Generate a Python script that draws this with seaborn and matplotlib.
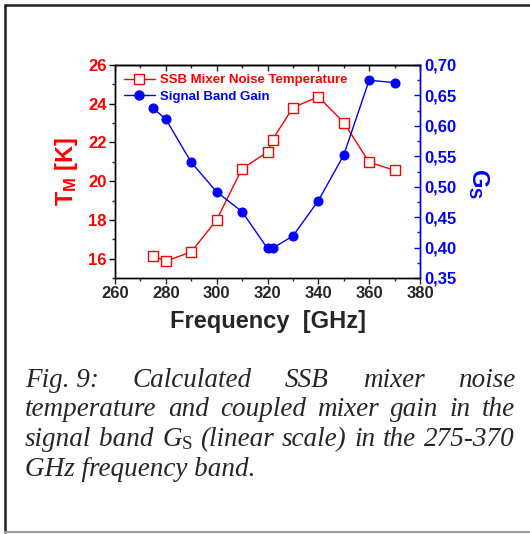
import matplotlib
matplotlib.use("Agg")
import matplotlib.pyplot as plt
import matplotlib.ticker as mticker
from matplotlib.lines import Line2D
import seaborn as sb

# data
freq = [275, 280, 290, 300, 310, 320, 322, 330, 340, 350, 360, 370]
noise_temp = [16.14, 15.87, 16.35, 18.0, 20.65, 21.5, 22.15, 23.8, 24.36, 23.03, 20.98, 20.56]
signal_gain = [0.629, 0.611, 0.540, 0.4915, 0.459, 0.3985, 0.399, 0.419, 0.477, 0.552, 0.675, 0.671]

caption_lines = [
    "Fig.\u00a09: Calculated SSB mixer noise",
    "temperature and coupled mixer gain in the",
    r"signal band $G_{\mathrm{S}}$ (linear scale) in the 275-370",
    "GHz frequency band.",
]

sb.set_style("ticks")
plt.rcParams["font.family"] = ["Liberation Sans", "DejaVu Sans"]
plt.rcParams["mathtext.fontset"] = "custom"
plt.rcParams["mathtext.bf"] = "Liberation Sans:bold"
plt.rcParams["mathtext.rm"] = "Liberation Serif"
plt.rcParams["mathtext.it"] = "Liberation Serif:italic"

W, H = 530, 534
fig = plt.figure(figsize=(W / 100, H / 100), dpi=100)
ax = fig.add_axes([115 / W, 1 - 278 / H, 305 / W, 213 / H])
ax2 = ax.twinx()

red = "#ff0000"
blue = "#0000ff"

sb.lineplot(x=freq, y=noise_temp, ax=ax, color=red, lw=1.0, marker="s", markersize=7,
            markerfacecolor="white", markeredgecolor=red, markeredgewidth=1.0)
sb.lineplot(x=freq, y=signal_gain, ax=ax2, color=blue, lw=1.0, marker="o", markersize=6.5,
            markerfacecolor=blue, markeredgecolor=blue)

ax.set_xlim(260, 380)
ax.set_ylim(15, 26)
ax2.set_ylim(0.35, 0.70)

ax.xaxis.set_major_locator(mticker.MultipleLocator(20))
ax.xaxis.set_minor_locator(mticker.MultipleLocator(10))
ax.yaxis.set_major_locator(mticker.MultipleLocator(2))
ax.yaxis.set_minor_locator(mticker.MultipleLocator(1))
ax2.yaxis.set_major_locator(mticker.MultipleLocator(0.05))
ax2.yaxis.set_minor_locator(mticker.MultipleLocator(0.025))
ax2.yaxis.set_major_formatter(mticker.FuncFormatter(lambda v, p: f"{v:.2f}".replace(".", ",")))

ax.tick_params(axis="x", which="major", direction="out", length=4, width=1, labelsize=12, pad=2)
ax.tick_params(axis="x", which="minor", direction="out", length=2.5, width=1)
ax.tick_params(axis="y", which="major", direction="out", length=4, width=1, colors="black",
               labelcolor=red, labelsize=12, pad=2)
ax.tick_params(axis="y", which="minor", direction="out", length=2.5, width=1)
ax2.tick_params(axis="y", which="major", direction="in", length=4, width=1, colors=blue,
                labelcolor=blue, labelsize=12, pad=3)
ax2.tick_params(axis="y", which="minor", direction="in", length=2.5, width=1, colors=blue)
for lab in ax.get_xticklabels() + ax.get_yticklabels() + ax2.get_yticklabels():
    lab.set_fontweight("bold")

# top axis: mirrored ticks pointing inward, no labels
top = ax.secondary_xaxis("top")
top.xaxis.set_major_locator(mticker.MultipleLocator(20))
top.xaxis.set_minor_locator(mticker.MultipleLocator(10))
top.tick_params(which="major", direction="in", length=4, width=1, labeltop=False)
top.tick_params(which="minor", direction="in", length=2.5, width=1)
top.spines["top"].set_linewidth(1.0)

for a in (ax, ax2):
    for s in a.spines.values():
        s.set_linewidth(1.0)
        s.set_color("black")
ax2.spines["right"].set_color(blue)

ax.set_xlabel("Frequency  [GHz]", fontsize=17, fontweight="bold", labelpad=6)
ax.set_ylabel(r"$\mathbf{T_M}$ [K]", fontsize=17, fontweight="bold", color=red, labelpad=6)
ax2.set_ylabel(r"$\mathbf{G_S}$", fontsize=17, fontweight="bold", color=blue, rotation=270,
               va="center", ha="center")
ax2.yaxis.set_label_coords((478 - 115) / 305, (278 - 183) / 213)

handles = [
    Line2D([], [], color=red, lw=1.0, marker="s", markersize=7, markerfacecolor="white",
           markeredgecolor=red),
    Line2D([], [], color=blue, lw=1.0, marker="o", markersize=6.5, markerfacecolor=blue,
           markeredgecolor=blue),
]
leg = ax.legend(handles, ["SSB Mixer Noise Temperature", "Signal Band Gain"], loc="upper left",
                frameon=False, handlelength=2.3, handletextpad=0.4, borderaxespad=0.3,
                labelspacing=0.3, prop=dict(weight="bold", size=9.5))
for t, c in zip(leg.get_texts(), [red, blue]):
    t.set_color(c)

# caption, justified over the text column
fig.canvas.draw()
renderer = fig.canvas.get_renderer()
left_px, right_px = 25, 515
baselines = [387, 416.5, 446, 475.5]
cap_font = dict(family="Liberation Serif", style="italic", fontsize=19.5, va="baseline")
for i, (line, yb) in enumerate(zip(caption_lines, baselines)):
    y = 1 - yb / H
    if i == len(caption_lines) - 1:
        fig.text(left_px / W, y, line, ha="left", **cap_font)
        continue
    words = [w.replace("\u00a0", " ") for w in line.split(" ") if w]
    texts = [fig.text(0, y, w, ha="left", **cap_font) for w in words]
    widths = [t.get_window_extent(renderer).width for t in texts]
    gap = (right_px - left_px - sum(widths)) / (len(words) - 1)
    x = left_px
    for t, w in zip(texts, widths):
        t.set_x(x / W)
        x += w + gap

# page frame
fig.add_artist(Line2D([5 / W, 5 / W], [1 - 5 / H, 1 - 532 / H], transform=fig.transFigure,
                      color="#222222", lw=1.8))
fig.add_artist(Line2D([5 / W, 1], [1 - 5 / H, 1 - 5 / H], transform=fig.transFigure,
                      color="#222222", lw=1.8))
fig.add_artist(Line2D([5 / W, 1], [1 - 532 / H, 1 - 532 / H], transform=fig.transFigure,
                      color="#999999", lw=1.5))

fig.savefig("out.png", dpi=100)
